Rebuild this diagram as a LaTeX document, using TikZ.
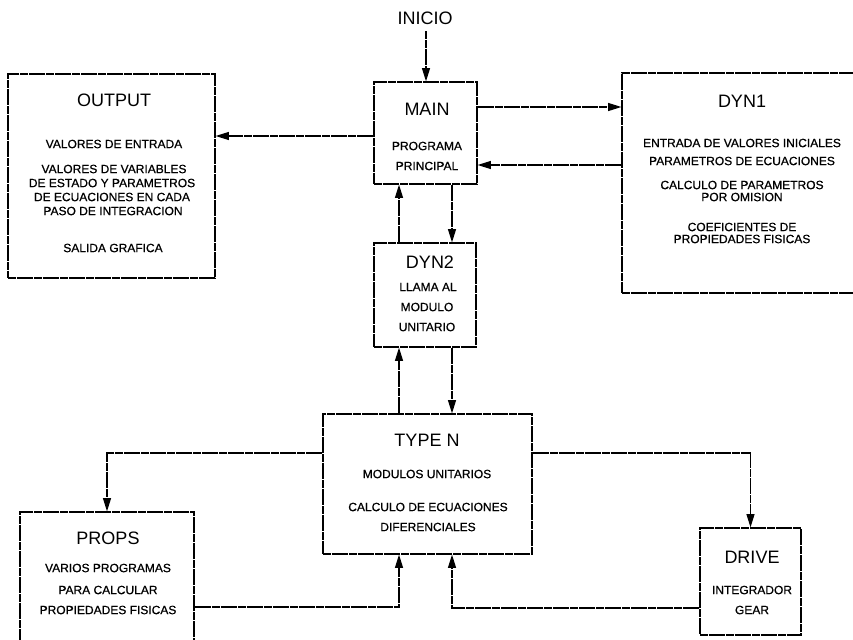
\documentclass[tikz,border=0pt]{standalone}
\usepackage{fontspec}
\setmainfont{Liberation Sans}
\newfontfamily\bodyfont[FakeBold=0.7]{Liberation Sans}
\usetikzlibrary{arrows.meta,fit}
\begin{document}
\begin{tikzpicture}[x=0.75pt,y=-0.75pt,
  ln/.style={line width=0.9pt, dash pattern=on 6pt off 0.5pt},
  box/.style={ln, draw, rectangle, inner sep=0pt, fit={#1}},
  arr/.style={ln, -{Triangle[length=10pt,width=6pt]}},
  ttl/.style={font=\fontsize{13.5}{16}\selectfont, inner sep=0pt},
  txt/.style={font=\bodyfont\fontsize{9}{11}\selectfont, inner sep=0pt}]
\useasboundingbox (0,0) rectangle (853,639);
\clip (0,0) rectangle (853,639);

% boxes
\node[box={(8,74) (215,278)}] (output) {};
\node[box={(374,82) (477,184)}] (main) {};
\node[box={(622,73) (880,293)}] (dyn1) {};
\node[box={(374,243) (476,347)}] (dyn2) {};
\node[box={(323,414) (532,554)}] (typen) {};
\node[box={(20,512) (194,680)}] (props) {};
\node[box={(700,528) (801,635)}] (drive) {};

% texts
\node[ttl] (inicio) at (425,18) {INICIO};

\node[ttl] (outT) at (114,100) {OUTPUT};
\node[txt] (out1) at (114,144) {VALORES DE ENTRADA};
\node[txt] (out2) at (114,169) {VALORES DE VARIABLES};
\node[txt] (out3) at (112,183) {DE ESTADO Y PARAMETROS};
\node[txt] (out4) at (112,197) {DE ECUACIONES EN CADA};
\node[txt] (out5) at (113,211) {PASO DE INTEGRACION};
\node[txt] (out6) at (113,248) {SALIDA GRAFICA};

\node[ttl] (mainT) at (427,109) {MAIN};
\node[txt] (main1) at (427,146) {PROGRAMA};
\node[txt] (main2) at (427,166) {PRINCIPAL};

\node[ttl] (dyn1T) at (742,101) {DYN1};
\node[txt] (d11) at (742,143) {ENTRADA DE VALORES INICIALES};
\node[txt] (d12) at (742,161) {PARAMETROS DE ECUACIONES};
\node[txt] (d13) at (742,185) {CALCULO DE PARAMETROS};
\node[txt] (d14) at (742,197) {POR OMISION};
\node[txt] (d15) at (742,227) {COEFICIENTES DE};
\node[txt] (d16) at (742,239) {PROPIEDADES FISICAS};

\node[ttl] (dyn2T) at (430,262) {DYN2};
\node[txt] (d21) at (428,287) {LLAMA AL};
\node[txt] (d22) at (427,307) {MODULO};
\node[txt] (d23) at (427,327) {UNITARIO};

\node[ttl] (typT) at (427,440) {TYPE N};
\node[txt] (ty1) at (427,474) {MODULOS UNITARIOS};
\node[txt] (ty2) at (428,507) {CALCULO DE ECUACIONES};
\node[txt] (ty3) at (428,527) {DIFERENCIALES};

\node[ttl] (propT) at (108,538) {PROPS};
\node[txt] (pr1) at (108,568) {VARIOS PROGRAMAS};
\node[txt] (pr2) at (108,590) {PARA CALCULAR};
\node[txt] (pr3) at (108,610) {PROPIEDADES FISICAS};

\node[ttl] (drvT) at (752,557) {DRIVE};
\node[txt] (dr1) at (752,590) {INTEGRADOR};
\node[txt] (dr2) at (752,610) {GEAR};

% helper coordinates
\coordinate (c107) at (0,107);
\coordinate (c136) at (0,136);
\coordinate (c165) at (0,165);
\coordinate (c453) at (0,453);
\coordinate (c607) at (0,607);
\coordinate (c608) at (0,608);
\coordinate (xl) at (399,0);
\coordinate (xr) at (452,0);
\coordinate (xi) at (426,0);

% connectors
\draw[arr] ([yshift=-5pt]inicio.south -| xi) -- (xi |- main.north);
\draw[arr] (main.west |- c136) -- (output.east |- c136);
\draw[arr] (main.east |- c107) -- (dyn1.west |- c107);
\draw[arr] (dyn1.west |- c165) -- (main.east |- c165);
\draw[arr] (xl |- dyn2.north) -- (xl |- main.south);
\draw[arr] (xr |- main.south) -- (xr |- dyn2.north);
\draw[arr] (xl |- typen.north) -- (xl |- dyn2.south);
\draw[arr] (xr |- dyn2.south) -- (xr |- typen.north);
\draw[arr] (typen.west |- c453) -| (props.north);
\draw[arr] (typen.east |- c453) -| (drive.north);
\draw[arr] (props.east |- c607) -| (xl |- typen.south);
\draw[arr] (drive.west |- c608) -| (xr |- typen.south);
\end{tikzpicture}
\end{document}
